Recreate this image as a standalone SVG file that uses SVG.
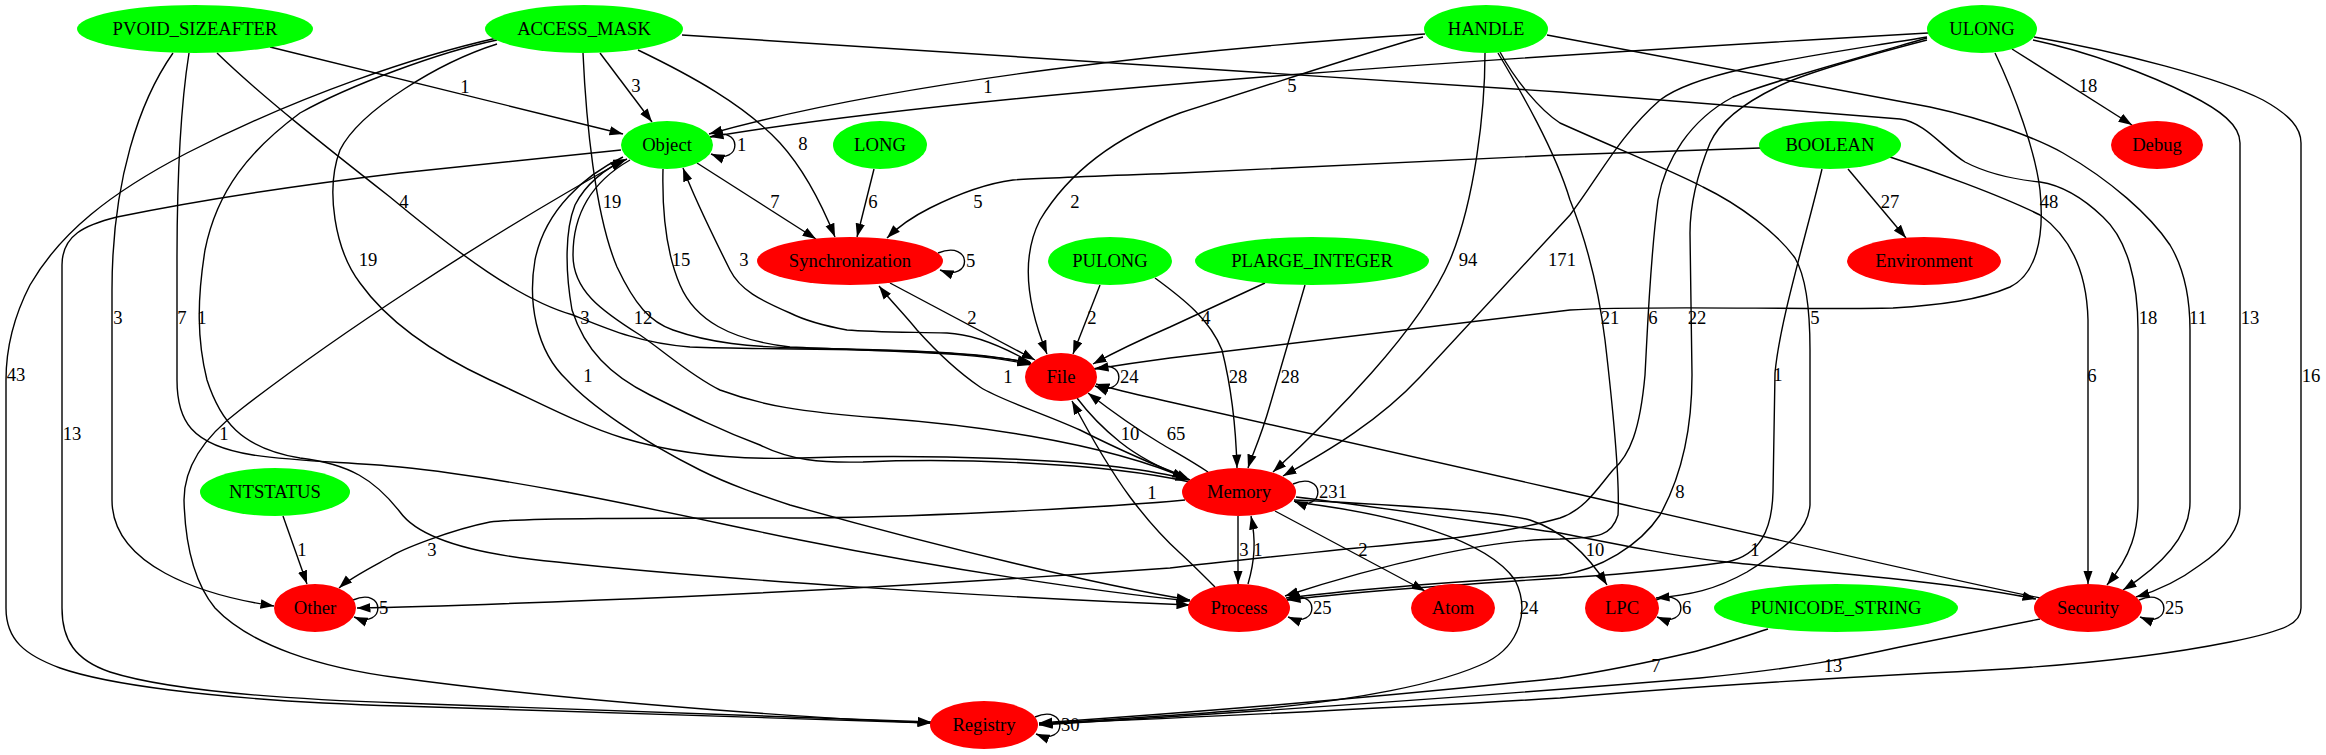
<svg xmlns="http://www.w3.org/2000/svg" width="2326" height="755" viewBox="0 0 2326 755">
<style>
.e{fill:none;stroke:#000;stroke-width:1.4}
.g{fill:#00ff00}
.r{fill:#ff0000}
text{font-family:"Liberation Serif","Times New Roman",serif;font-size:18.67px;fill:#000}
.n{text-anchor:middle}
.l{text-anchor:middle}
.s{text-anchor:start}
</style>
<defs>
<marker id="ah" markerUnits="userSpaceOnUse" markerWidth="14" markerHeight="10" viewBox="0 0 14 10" refX="13.5" refY="5" orient="auto"><path d="M0,0.3 L13.5,5 L0,9.7 z" fill="#000"/></marker>
</defs>
<rect x="0" y="0" width="2326" height="755" fill="#fff"/>
<g id="edges">
<path class="e" marker-end="url(#ah)" d="M270,47 L623,134"/>
<path class="e" marker-end="url(#ah)" d="M217,53 C260,95 330,150 390,197 C460,255 520,300 573,315 C610,330 640,343 690,347 C800,351 950,346 1031,363"/>
<path class="e" marker-end="url(#ah)" d="M173,53 C140,100 112,180 112,290 L112,500 C112,565 200,595 274,606"/>
<path class="e" marker-end="url(#ah)" d="M189,53 C180,110 177,180 177,260 L177,380 C177,420 190,445 253,455 C300,462 350,462 400,467 C530,480 700,520 800,540 C950,570 1100,592 1190,601"/>
<path class="e" marker-end="url(#ah)" d="M600,53 L652,122"/>
<path class="e" marker-end="url(#ah)" d="M638,50 C690,75 745,105 780,143 C800,165 820,200 835,237"/>
<path class="e" marker-end="url(#ah)" d="M583,53 C586,120 595,215 617,267 C635,305 650,322 673,330 C710,343 750,347 800,348 C900,350 990,352 1031,364"/>
<path class="e" marker-end="url(#ah)" d="M497,44 C440,62 360,110 340,150 C325,190 335,250 360,283 C385,318 430,352 490,380 C530,398 580,425 623,438 C680,455 740,460 800,458 C900,455 1100,455 1189,480"/>
<path class="e" marker-end="url(#ah)" d="M497,40 C440,52 350,85 300,113 C250,150 217,190 205,250 C197,300 197,340 207,380 C220,420 240,448 300,458 C350,464 375,480 400,512 C420,540 480,555 557,562 C700,578 1000,598 1190,605"/>
<path class="e" marker-end="url(#ah)" d="M497,38 C420,55 300,95 187,153 C110,193 60,233 30,285 C12,320 6,350 6,380 L6,608 C6,640 25,655 60,668 C100,682 200,700 400,706 C600,712 800,718 931,723"/>
<path class="e" marker-end="url(#ah)" d="M682,35 L1560,92 L1900,119 C1925,122 1945,150 1965,162 C1990,175 2020,180 2040,182 C2060,185 2080,195 2103,217 C2128,240 2138,283 2138,330 L2138,502 C2138,530 2132,555 2107,585"/>
<path class="e" marker-end="url(#ah)" d="M1425,34 C1200,48 900,80 709,134"/>
<path class="e" marker-end="url(#ah)" d="M1423,37 C1380,48 1300,75 1180,113 C1120,135 1070,170 1040,220 C1022,255 1025,300 1047,354"/>
<path class="e" marker-end="url(#ah)" d="M1485,53 C1485,110 1475,200 1450,260 C1420,330 1330,420 1273,472"/>
<path class="e" marker-end="url(#ah)" d="M1498,53 C1520,90 1555,150 1570,200 C1590,250 1600,300 1605,340 C1612,400 1620,480 1618,515 C1612,535 1600,538 1560,539 C1490,539 1380,565 1285,596"/>
<path class="e" marker-end="url(#ah)" d="M1500,52 C1515,80 1540,110 1560,123 C1620,150 1670,170 1703,187 C1740,205 1777,233 1795,258 C1808,280 1810,320 1810,350 L1810,505 C1808,530 1790,545 1747,572 C1715,590 1690,595 1656,598"/>
<path class="e" marker-end="url(#ah)" d="M1547,35 L1930,107 C1990,120 2040,140 2063,153 C2110,180 2150,215 2170,245 C2185,270 2190,300 2190,330 L2190,502 C2190,530 2170,560 2123,590"/>
<path class="e" marker-end="url(#ah)" d="M1928,33 C1600,52 1000,88 710,137"/>
<path class="e" marker-end="url(#ah)" d="M2012,49 L2132,125"/>
<path class="e" marker-end="url(#ah)" d="M1995,53 C2015,95 2035,150 2040,190 C2045,240 2035,275 2010,287 C1980,300 1940,305 1893,308 C1800,310 1640,305 1570,310 L1170,358 C1140,362 1120,365 1095,369"/>
<path class="e" marker-end="url(#ah)" d="M1927,37 C1800,58 1700,70 1660,100 C1620,135 1600,175 1570,215 L1420,377 C1380,420 1330,450 1283,476"/>
<path class="e" marker-end="url(#ah)" d="M1927,38 C1850,60 1760,85 1733,97 C1690,120 1665,160 1658,200 C1650,260 1648,320 1645,375 C1640,430 1630,455 1613,470 C1600,485 1585,510 1560,518 C1500,535 1420,542 1357,548 C1280,556 1220,562 1170,568 C1000,580 780,593 600,600 C500,604 420,607 357,608"/>
<path class="e" marker-end="url(#ah)" d="M1927,40 C1850,60 1800,75 1777,87 C1740,105 1718,125 1710,143 C1695,180 1690,210 1690,233 L1692,375 C1692,420 1685,470 1660,515 C1640,545 1600,570 1560,575 C1450,582 1350,590 1286,598"/>
<path class="e" marker-end="url(#ah)" d="M2033,40 C2090,52 2150,75 2190,95 C2220,110 2240,125 2240,143 L2240,508 C2240,530 2225,548 2200,565 C2180,580 2160,590 2136,597"/>
<path class="e" marker-end="url(#ah)" d="M2034,37 C2120,52 2220,78 2263,100 C2290,115 2301,128 2301,143 L2301,608 C2301,622 2290,630 2230,642 C2150,658 2050,668 1930,673 C1800,680 1650,690 1560,698 C1400,708 1200,717 1039,724"/>
<path class="e" marker-end="url(#ah)" d="M874,169 L857,237"/>
<path class="e" marker-end="url(#ah)" d="M1760,148 L1560,155 L1180,173 C1100,176 1040,178 1013,180 C990,183 960,193 930,208 C910,218 897,228 887,238"/>
<path class="e" marker-end="url(#ah)" d="M1848,169 L1906,238"/>
<path class="e" marker-end="url(#ah)" d="M1822,169 C1805,240 1780,320 1775,373 L1773,492 C1772,530 1760,555 1727,562 C1670,570 1600,576 1560,578 C1450,585 1350,592 1287,600"/>
<path class="e" marker-end="url(#ah)" d="M1890,157 C1930,170 2000,195 2040,215 C2075,240 2087,280 2088,320 L2088,584"/>
<path class="e" marker-end="url(#ah)" d="M697,163 L816,239"/>
<path class="e" marker-end="url(#ah)" d="M663,169 C662,210 665,250 680,285 C695,320 730,340 790,347 C900,352 980,352 1031,365"/>
<path class="e" marker-end="url(#ah)" d="M1030,362 C1000,345 970,334 947,333 C900,332 870,332 847,330 C820,325 800,318 790,313 C760,300 740,290 730,270 C715,240 695,200 683,168"/>
<path class="e" marker-end="url(#ah)" d="M630,160 C595,180 573,210 573,255 C573,290 600,310 640,335 C665,352 690,375 720,390 C760,405 800,412 880,418 C960,424 1100,440 1190,480"/>
<path class="e" marker-end="url(#ah)" d="M1190,482 C1100,462 950,458 863,462 C820,463 790,460 760,445 C720,430 690,415 650,395 C610,375 585,350 572,310 C565,270 565,230 575,205 C585,185 605,168 627,159"/>
<path class="e" marker-end="url(#ah)" d="M623,157 C585,175 545,210 535,260 C528,300 535,350 567,380 C590,405 640,440 700,470 C730,485 760,495 790,505 C950,550 1100,585 1190,600"/>
<path class="e" marker-end="url(#ah)" d="M621,150 L400,173 C300,185 200,200 117,217 C85,225 62,235 62,265 L62,608 C62,640 75,660 110,672 C160,688 250,698 400,703 C600,710 800,716 931,722"/>
<path class="e" marker-end="url(#ah)" d="M931,723 C850,720 600,705 400,678 C320,668 250,645 215,608 C192,580 185,540 184,500 C184,470 200,440 240,410 C330,340 480,240 624,160"/>
<path class="e" marker-end="url(#ah)" d="M890,283 L1035,360"/>
<path class="e" marker-end="url(#ah)" d="M1186,477 C1140,460 1100,440 1080,430 C1040,412 1000,400 980,387 C955,370 935,350 917,330 C905,315 890,300 879,286"/>
<path class="e" marker-end="url(#ah)" d="M1100,285 L1073,354"/>
<path class="e" marker-end="url(#ah)" d="M1155,278 C1185,300 1210,320 1222,350 C1232,390 1236,430 1237,468"/>
<path class="e" marker-end="url(#ah)" d="M1265,283 L1170,327 C1140,340 1115,352 1093,364"/>
<path class="e" marker-end="url(#ah)" d="M1305,285 C1295,320 1280,370 1270,405 C1260,440 1252,455 1248,468"/>
<path class="e" marker-end="url(#ah)" d="M1077,398 C1092,418 1105,430 1120,442 C1140,458 1160,468 1186,478"/>
<path class="e" marker-end="url(#ah)" d="M1208,472 C1190,460 1175,452 1160,443 C1135,428 1110,410 1088,393"/>
<path class="e" marker-end="url(#ah)" d="M1215,587 C1200,572 1190,562 1180,553 C1160,535 1145,517 1130,497 C1110,470 1090,435 1072,401"/>
<path class="e" marker-end="url(#ah)" d="M2040,598 C1960,582 1800,545 1560,490 L1170,402 C1140,395 1115,390 1096,384"/>
<path class="e" marker-end="url(#ah)" d="M283,516 L307,584"/>
<path class="e" marker-end="url(#ah)" d="M1238,516 L1238,584"/>
<path class="e" marker-end="url(#ah)" d="M1248,584 C1255,560 1256,540 1251,516"/>
<path class="e" marker-end="url(#ah)" d="M1275,511 L1425,591"/>
<path class="e" marker-end="url(#ah)" d="M1294,500 C1400,505 1500,512 1530,520 C1560,530 1585,550 1607,585"/>
<path class="e" marker-end="url(#ah)" d="M1296,497 C1400,510 1500,525 1560,533 C1620,545 1680,557 1727,562 C1820,572 1960,583 2036,599"/>
<path class="e" marker-end="url(#ah)" d="M1185,500 C1100,508 900,518 790,518 C650,518 520,518 490,522 C450,530 400,550 390,557 C370,568 350,578 339,588"/>
<path class="e" marker-end="url(#ah)" d="M1295,502 C1400,515 1487,540 1515,580 C1530,610 1520,645 1487,662 C1440,685 1350,700 1270,708 C1200,714 1100,720 1039,724"/>
<path class="e" marker-end="url(#ah)" d="M1768,629 C1740,638 1710,648 1693,652 C1650,662 1600,672 1560,678 C1400,695 1200,712 1039,723"/>
<path class="e" marker-end="url(#ah)" d="M2040,619 C2000,627 1960,635 1900,647 C1850,658 1800,668 1700,678 C1500,695 1200,715 1039,725"/>
<path class="e" marker-end="url(#ah)" d="M710,137 C743,123 743,167 711,154"/>
<path class="e" marker-end="url(#ah)" d="M938,253 C973,239 973,283 940,270"/>
<path class="e" marker-end="url(#ah)" d="M1094,369 C1127,355 1127,399 1095,386"/>
<path class="e" marker-end="url(#ah)" d="M1293,484 C1326,470 1326,514 1294,501"/>
<path class="e" marker-end="url(#ah)" d="M353,600 C386,586 386,630 354,617"/>
<path class="e" marker-end="url(#ah)" d="M1287,600 C1320,586 1320,630 1288,617"/>
<path class="e" marker-end="url(#ah)" d="M1656,600 C1689,586 1689,630 1657,617"/>
<path class="e" marker-end="url(#ah)" d="M2139,600 C2172,586 2172,630 2140,617"/>
<path class="e" marker-end="url(#ah)" d="M1035,717 C1068,703 1068,747 1036,734"/>
<g id="edge-labels">
<text class="l" x="465" y="93">1</text>
<text class="l" x="636" y="92">3</text>
<text class="l" x="988" y="93">1</text>
<text class="l" x="1292" y="92">5</text>
<text class="l" x="2088" y="92">18</text>
<text class="l" x="803" y="150">8</text>
<text class="s" x="737" y="151">1</text>
<text class="l" x="404" y="208">4</text>
<text class="l" x="612" y="208">19</text>
<text class="l" x="775" y="208">7</text>
<text class="l" x="873" y="208">6</text>
<text class="l" x="978" y="208">5</text>
<text class="l" x="1075" y="208">2</text>
<text class="l" x="1890" y="208">27</text>
<text class="l" x="2049" y="208">48</text>
<text class="l" x="368" y="266">19</text>
<text class="l" x="681" y="266">15</text>
<text class="l" x="744" y="266">3</text>
<text class="s" x="966" y="267">5</text>
<text class="l" x="1468" y="266">94</text>
<text class="l" x="1562" y="266">171</text>
<text class="l" x="118" y="324">3</text>
<text class="l" x="182" y="324">7</text>
<text class="l" x="202" y="324">1</text>
<text class="l" x="585" y="324">3</text>
<text class="l" x="643" y="324">12</text>
<text class="l" x="972" y="324">2</text>
<text class="l" x="1092" y="324">2</text>
<text class="l" x="1206" y="324">4</text>
<text class="l" x="1610" y="324">21</text>
<text class="l" x="1653" y="324">6</text>
<text class="l" x="1697" y="324">22</text>
<text class="l" x="1815" y="324">5</text>
<text class="l" x="2148" y="324">18</text>
<text class="l" x="2198" y="324">11</text>
<text class="l" x="2250" y="324">13</text>
<text class="l" x="16" y="381">43</text>
<text class="l" x="588" y="382">1</text>
<text class="l" x="1008" y="383">1</text>
<text class="s" x="1120" y="383">24</text>
<text class="l" x="1238" y="383">28</text>
<text class="l" x="1290" y="383">28</text>
<text class="l" x="1778" y="381">1</text>
<text class="l" x="2092" y="382">6</text>
<text class="l" x="2311" y="382">16</text>
<text class="l" x="72" y="440">13</text>
<text class="l" x="224" y="440">1</text>
<text class="l" x="1130" y="440">10</text>
<text class="l" x="1176" y="440">65</text>
<text class="l" x="1152" y="499">1</text>
<text class="s" x="1319" y="498">231</text>
<text class="l" x="1680" y="498">8</text>
<text class="l" x="302" y="556">1</text>
<text class="l" x="432" y="556">3</text>
<text class="l" x="1244" y="556">3</text>
<text class="l" x="1258" y="556">1</text>
<text class="l" x="1363" y="556">2</text>
<text class="l" x="1595" y="556">10</text>
<text class="l" x="1755" y="556">1</text>
<text class="s" x="379" y="614">5</text>
<text class="s" x="1313" y="614">25</text>
<text class="l" x="1529" y="614">24</text>
<text class="s" x="1682" y="614">6</text>
<text class="s" x="2165" y="614">25</text>
<text class="l" x="1656" y="672">7</text>
<text class="l" x="1833" y="672">13</text>
<text class="s" x="1061" y="731">30</text>
</g>
</g>
<g id="node-PVOID_SIZEAFTER"><ellipse class="g" cx="195" cy="29" rx="118" ry="24"/><text class="n" x="195" y="35">PVOID_SIZEAFTER</text></g>
<g id="node-ACCESS_MASK"><ellipse class="g" cx="584" cy="29" rx="99" ry="24"/><text class="n" x="584" y="35">ACCESS_MASK</text></g>
<g id="node-HANDLE"><ellipse class="g" cx="1486" cy="29" rx="62" ry="24"/><text class="n" x="1486" y="35">HANDLE</text></g>
<g id="node-ULONG"><ellipse class="g" cx="1982" cy="29" rx="55" ry="24"/><text class="n" x="1982" y="35">ULONG</text></g>
<g id="node-Object"><ellipse class="g" cx="667" cy="145" rx="46" ry="24"/><text class="n" x="667" y="151">Object</text></g>
<g id="node-LONG"><ellipse class="g" cx="880" cy="145" rx="47" ry="24"/><text class="n" x="880" y="151">LONG</text></g>
<g id="node-BOOLEAN"><ellipse class="g" cx="1830" cy="145" rx="71" ry="24"/><text class="n" x="1830" y="151">BOOLEAN</text></g>
<g id="node-Debug"><ellipse class="r" cx="2157" cy="145" rx="46" ry="24"/><text class="n" x="2157" y="151">Debug</text></g>
<g id="node-Synchronization"><ellipse class="r" cx="850" cy="261" rx="93" ry="24"/><text class="n" x="850" y="267">Synchronization</text></g>
<g id="node-PULONG"><ellipse class="g" cx="1110" cy="261" rx="62" ry="24"/><text class="n" x="1110" y="267">PULONG</text></g>
<g id="node-PLARGE_INTEGER"><ellipse class="g" cx="1312" cy="261" rx="117" ry="24"/><text class="n" x="1312" y="267">PLARGE_INTEGER</text></g>
<g id="node-Environment"><ellipse class="r" cx="1924" cy="261" rx="77" ry="24"/><text class="n" x="1924" y="267">Environment</text></g>
<g id="node-File"><ellipse class="r" cx="1061" cy="377" rx="36" ry="24"/><text class="n" x="1061" y="383">File</text></g>
<g id="node-NTSTATUS"><ellipse class="g" cx="275" cy="492" rx="75" ry="24"/><text class="n" x="275" y="498">NTSTATUS</text></g>
<g id="node-Memory"><ellipse class="r" cx="1239" cy="492" rx="57" ry="24"/><text class="n" x="1239" y="498">Memory</text></g>
<g id="node-Other"><ellipse class="r" cx="315" cy="608" rx="41" ry="24"/><text class="n" x="315" y="614">Other</text></g>
<g id="node-Process"><ellipse class="r" cx="1239" cy="608" rx="51" ry="24"/><text class="n" x="1239" y="614">Process</text></g>
<g id="node-Atom"><ellipse class="r" cx="1453" cy="608" rx="42" ry="24"/><text class="n" x="1453" y="614">Atom</text></g>
<g id="node-LPC"><ellipse class="r" cx="1622" cy="608" rx="37" ry="24"/><text class="n" x="1622" y="614">LPC</text></g>
<g id="node-PUNICODE_STRING"><ellipse class="g" cx="1836" cy="608" rx="122" ry="24"/><text class="n" x="1836" y="614">PUNICODE_STRING</text></g>
<g id="node-Security"><ellipse class="r" cx="2088" cy="608" rx="54" ry="24"/><text class="n" x="2088" y="614">Security</text></g>
<g id="node-Registry"><ellipse class="r" cx="984" cy="725" rx="54" ry="24"/><text class="n" x="984" y="731">Registry</text></g>
</svg>
